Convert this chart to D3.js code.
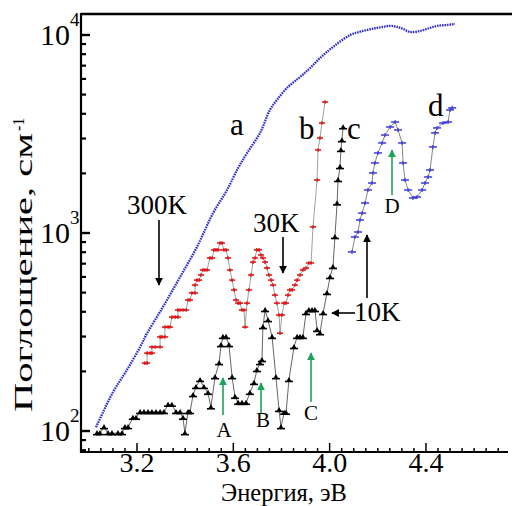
<!DOCTYPE html>
<html><head><meta charset="utf-8">
<script src="https://cdn.jsdelivr.net/npm/d3@7"></script>
<style>
body{margin:0;background:#fff}
svg{display:block}
</style>
</head><body>
<svg id="chart" width="512" height="506"></svg>
<script>
// ---- data (energy eV, absorption cm^-1) ----
const curveA300K = [
 [3.032,104],[3.102,156],[3.160,202],[3.215,264],[3.244,310],[3.310,421],[3.381,596],
 [3.451,845],[3.518,1253],[3.576,1640],[3.622,2118],[3.659,2518],[3.713,3184],[3.754,4160],
 [3.783,4670],[3.825,5370],[3.879,6100],[3.921,6770],[3.962,7600],[4.016,8650],[4.087,9930],
 [4.141,10420],[4.199,10790],[4.253,11050],[4.282,10920],[4.307,10670],[4.336,10300],
 [4.377,10420],[4.419,10790],[4.448,11050],[4.490,11170],[4.523,11300]
];
const curveB30K = [
 [3.235,219],[3.244,219],[3.244,246],[3.256,246],[3.264,246],[3.264,264],[3.277,264],[3.298,264],
 [3.298,297],[3.306,297],[3.318,297],[3.318,333],[3.331,333],[3.339,333],[3.347,374],[3.360,374],
 [3.372,374],[3.372,406],[3.381,406],[3.393,406],[3.406,406],[3.414,456],[3.422,456],[3.430,495],
 [3.443,495],[3.443,543],[3.451,575],[3.460,575],[3.468,610],[3.476,647],[3.484,647],[3.493,647],
 [3.505,744],[3.514,744],[3.522,817],[3.530,817],[3.538,817],[3.547,885],[3.555,885],[3.563,817],
 [3.572,817],[3.580,744],[3.588,647],[3.597,575],[3.605,513],[3.613,456],[3.622,440],[3.630,440],
 [3.638,406],[3.646,406],[3.651,333],[3.659,440],[3.667,513],[3.676,610],[3.684,709],[3.692,744],
 [3.700,817],[3.709,817],[3.717,770],[3.725,744],[3.734,709],[3.742,662],[3.750,610],[3.759,575],
 [3.767,543],[3.775,483],[3.783,440],[3.792,383],[3.796,310],[3.804,383],[3.813,440],[3.821,440],
 [3.829,483],[3.837,513],[3.846,513],[3.858,543],[3.867,575],[3.879,610],[3.891,647],[3.904,662],
 [3.916,702],[3.925,702],[3.933,1067],[3.950,1841],[3.954,2612],[3.962,3000],[3.970,3573],[3.983,4560]
];
const curveC10K = [
 [3.036,97],[3.048,97],[3.065,104],[3.082,97],[3.098,97],[3.123,97],[3.140,97],[3.152,104],
 [3.165,104],[3.185,116],[3.198,116],[3.215,124],[3.231,124],[3.248,124],[3.264,124],[3.281,124],
 [3.298,124],[3.314,124],[3.331,135],[3.347,135],[3.364,124],[3.381,124],[3.393,116],[3.401,97],
 [3.414,124],[3.422,124],[3.435,151],[3.447,166],[3.464,180],[3.480,166],[3.497,155],[3.509,131],
 [3.526,186],[3.543,219],[3.551,270],[3.559,297],[3.572,297],[3.584,270],[3.597,186],[3.609,148],
 [3.622,138],[3.638,138],[3.655,138],[3.671,155],[3.688,174],[3.700,202],[3.713,219],[3.721,227],
 [3.725,333],[3.734,406],[3.746,361],[3.763,297],[3.779,186],[3.792,127],[3.800,104],[3.813,123],
 [3.821,123],[3.833,180],[3.854,264],[3.867,297],[3.879,297],[3.891,297],[3.904,392],[3.916,406],
 [3.929,406],[3.941,406],[3.950,322],[3.962,310],[3.975,392],[3.991,495],[4.004,596],[4.016,670],
 [4.024,949],[4.033,1403],[4.037,1841],[4.045,2140],[4.049,2612],[4.053,2925],[4.058,3400]
];
const curveD10K = [
 [4.095,798],[4.107,949],[4.120,1006],[4.128,1157],[4.137,1253],[4.149,1409],[4.161,1640],
 [4.178,1778],[4.182,1999],[4.190,2245],[4.203,2522],[4.220,2833],[4.232,3106],[4.253,3410],
 [4.274,3614],[4.286,3296],[4.303,2833],[4.307,2245],[4.315,1841],[4.328,1640],[4.348,1494],
 [4.365,1511],[4.386,1640],[4.398,1778],[4.411,1907],[4.419,2069],[4.431,2705],[4.440,3184],
 [4.448,3374],[4.473,3573],[4.494,3614],[4.502,4160],[4.511,4260]
];
const xMajorTicks = [3.2, 3.6, 4.0, 4.4];
const xMinorTicks = [3.0,3.05,3.1,3.15,3.25,3.3,3.35,3.4,3.45,3.5,3.55,3.65,3.7,3.75,3.8,3.85,3.9,3.95,
                     4.05,4.1,4.15,4.2,4.25,4.3,4.35,4.45,4.5,4.55,4.6,4.65,4.7];
const yMajorTicks = [100, 1000, 10000];
const yMajorExp = ["2", "3", "4"];
const yMinorTicks = [80,90,200,300,400,500,600,700,800,900,2000,3000,4000,5000,6000,7000,8000,9000];
const curveLetters = ["a","b","c","d"];
const tempLabels = ["300K","30K","10K"];
const featureLabels = ["A","B","C","D"];
const xTitle = "Энергия, эВ";
const yTitle = "Поглощение, см";

const FONT = "'Liberation Serif'";

// ---- scales ----
const svg = d3.select("#chart");
const x = d3.scaleLinear().domain([2.9695, 4.7428]).range([81, 508]);
const y = d3.scaleLog().domain([77.9, 12690]).range([452, 14]);

// ---- axes ----
const gx = svg.append("g").attr("transform","translate(0,452)");
gx.call(d3.axisBottom(x).tickValues(xMinorTicks).tickSizeInner(-4).tickSizeOuter(0).tickFormat(()=>""));
gx.select(".domain").remove();
const gx2 = svg.append("g").attr("transform","translate(0,452)");
gx2.call(d3.axisBottom(x).tickValues(xMajorTicks).tickSizeInner(-9).tickSizeOuter(0).tickPadding(0).tickFormat(d3.format(".1f")));
gx2.select(".domain").remove();
gx2.selectAll("text").attr("font-size",28).attr("fill","#000");
svg.selectAll(".tick line").attr("stroke","#000").attr("stroke-width",1.5);

const gy = svg.append("g").attr("transform","translate(81,0)");
gy.call(d3.axisLeft(y).tickValues(yMinorTicks).tickSizeInner(-5).tickSizeOuter(0).tickFormat(()=>""));
gy.select(".domain").remove();
const gy2 = svg.append("g").attr("transform","translate(81,0)");
gy2.call(d3.axisLeft(y).tickValues(yMajorTicks).tickSizeInner(-9).tickSizeOuter(0).tickFormat(()=>""));
gy2.select(".domain").remove();
gy.selectAll(".tick line").attr("stroke","#000").attr("stroke-width",2.2);
gy2.selectAll(".tick line").attr("stroke","#000").attr("stroke-width",2.4);
gy2.selectAll(".tick").each(function(d,i){
  const t = d3.select(this);
  t.append("text").attr("x",-11).attr("y",10).attr("text-anchor","end")
   .attr("font-size",30).attr("fill","#000").text("10");
  t.append("text").attr("x",-11).attr("y",-9).attr("text-anchor","start")
   .attr("font-size",19).attr("fill","#000").text(yMajorExp[i]);
});

// frame
svg.append("line").attr("x1",81).attr("x2",512).attr("y1",14).attr("y2",14).attr("stroke","#000").attr("stroke-width",2.6);
svg.append("line").attr("x1",81).attr("x2",81).attr("y1",13).attr("y2",453).attr("stroke","#000").attr("stroke-width",2.2);
svg.append("line").attr("x1",80).attr("x2",508).attr("y1",452).attr("y2",452).attr("stroke","#000").attr("stroke-width",2);

// titles
svg.append("text").attr("x",284).attr("y",500.5).attr("text-anchor","middle").attr("font-size",24.5).text(xTitle);
const yt = svg.append("g").attr("transform","translate(32,412) rotate(-90)");
yt.append("text").attr("x",0).attr("y",0).attr("font-size",25)
  .attr("textLength",279).attr("lengthAdjust","spacingAndGlyphs").text(yTitle);
yt.append("text").attr("x",281).attr("y",-8).attr("font-size",16).text("-1");

// ---- series ----
const line = d3.line().x(d=>x(d[0])).y(d=>y(d[1]));
const plot = svg.append("g");

// a: 300K dense blue dotted
plot.append("path").attr("d",line.curve(d3.curveCatmullRom)(curveA300K))
  .attr("fill","none").attr("stroke","#2e2ed0").attr("stroke-width",2.3).attr("stroke-dasharray","1.6,0.9");
line.curve(d3.curveLinear);

// b: 30K red
plot.append("path").datum(curveB30K).attr("d",line).attr("fill","none").attr("stroke","#888").attr("stroke-width",0.8);
plot.append("g").selectAll("g").data(curveB30K).join("g")
  .attr("transform",d=>`translate(${x(d[0])},${y(d[1])})`)
  .each(function(){
    const g=d3.select(this);
    g.append("line").attr("x1",-3).attr("x2",3).attr("stroke","#e01818").attr("stroke-width",1.6);
    g.append("line").attr("y1",-1.8).attr("y2",1.8).attr("stroke","#e01818").attr("stroke-width",1.4);
  });

// c: 10K black
plot.append("path").datum(curveC10K).attr("d",line).attr("fill","none").attr("stroke","#555").attr("stroke-width",0.9);
plot.append("g").selectAll("g").data(curveC10K).join("g")
  .attr("transform",d=>`translate(${x(d[0])},${y(d[1])})`)
  .each(function(){
    const g=d3.select(this);
    g.append("line").attr("x1",-4).attr("x2",4).attr("y1",1.5).attr("y2",1.5).attr("stroke","#000").attr("stroke-width",1.6);
    g.append("path").attr("d",d3.symbol(d3.symbolTriangle,12)()).attr("fill","#000");
  });

// d: 10K blue
plot.append("path").datum(curveD10K).attr("d",line).attr("fill","none").attr("stroke","#777").attr("stroke-width",0.9);
plot.append("g").selectAll("g").data(curveD10K).join("g")
  .attr("transform",d=>`translate(${x(d[0])},${y(d[1])})`)
  .each(function(){
    const g=d3.select(this);
    g.append("line").attr("x1",-4).attr("x2",4).attr("stroke","#3a3ad8").attr("stroke-width",1.5);
    g.append("line").attr("y1",-2).attr("y2",2).attr("stroke","#3a3ad8").attr("stroke-width",1.2);
  });

// ---- annotations ----
const defs = svg.append("defs");
function head(id,color){
  defs.append("marker").attr("id",id).attr("viewBox","0 0 10 10").attr("refX",9).attr("refY",5)
   .attr("markerWidth",5).attr("markerHeight",7).attr("markerUnits","strokeWidth").attr("orient","auto")
   .append("path").attr("d","M0,0 L10,5 L0,10 Z").attr("fill",color);
}
head("ah","#000"); head("ag","#1fa35a");
function arrow(x1,y1,x2,y2,id,color,w){
  svg.append("line").attr("x1",x1).attr("y1",y1).attr("x2",x2).attr("y2",y2)
   .attr("stroke",color).attr("stroke-width",w).attr("marker-end",`url(#${id})`);
}
const ann = svg.append("g");
ann.append("text").attr("x",230).attr("y",135).attr("font-size",31).text(curveLetters[0]);
ann.append("text").attr("x",299).attr("y",139).attr("font-size",31).text(curveLetters[1]);
ann.append("text").attr("x",347).attr("y",139).attr("font-size",31).text(curveLetters[2]);
ann.append("text").attr("x",428).attr("y",116).attr("font-size",31).text(curveLetters[3]);
ann.append("text").attr("x",127).attr("y",214).attr("font-size",27).text(tempLabels[0]);
ann.append("text").attr("x",253).attr("y",232).attr("font-size",27).text(tempLabels[1]);
ann.append("text").attr("x",354).attr("y",321).attr("font-size",27).text(tempLabels[2]);
arrow(159,220,159,285,"ah","#000",1.6);
arrow(283,237,283,273,"ah","#000",1.6);
arrow(355,313,332,313,"ah","#000",1.6);
arrow(367,298,367,235,"ah","#000",1.6);
arrow(223,415,223,378,"ag","#1fa35a",1.6);
arrow(261,413,261,383,"ag","#1fa35a",1.6);
arrow(311,402,311,353,"ag","#1fa35a",1.6);
arrow(392,195,392,150,"ag","#1fa35a",1.6);
ann.append("text").attr("x",224).attr("y",437).attr("text-anchor","middle").attr("font-size",21).text(featureLabels[0]);
ann.append("text").attr("x",263).attr("y",427).attr("text-anchor","middle").attr("font-size",21).text(featureLabels[1]);
ann.append("text").attr("x",311).attr("y",420).attr("text-anchor","middle").attr("font-size",21).text(featureLabels[2]);
ann.append("text").attr("x",392).attr("y",213).attr("text-anchor","middle").attr("font-size",21).text(featureLabels[3]);

// serif font everywhere
svg.selectAll("text").style("font-family",FONT).style("font-weight","normal").style("fill","#000");
</script>
</body></html>
